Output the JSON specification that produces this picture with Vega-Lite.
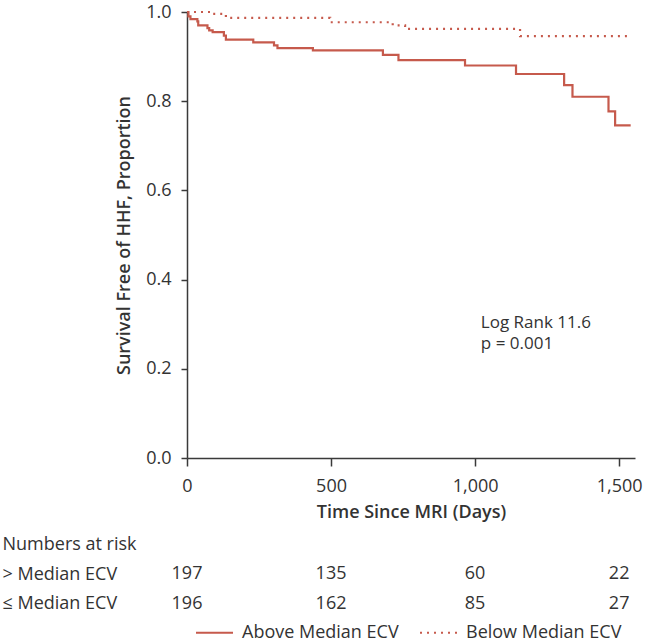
{
  "$schema": "https://vega.github.io/schema/vega-lite/v6.json",
  "padding": {"left": 2, "top": 3, "right": 5, "bottom": 0},
  "background": "white",
  "config": {
    "font": "Open Sans",
    "view": {"stroke": null},
    "axis": {"grid": false, "domainColor": "#3a3a3a", "tickColor": "#3a3a3a", "domainWidth": 1.5, "tickWidth": 1.5, "labelColor": "#333333", "titleColor": "#333333", "labelFont": "Open Sans", "titleFont": "Open Sans", "labelFontSize": 18, "titleFontSize": 18, "titleFontWeight": 600}
  },
  "datasets": {
    "km": [
      {"group": "Above Median ECV", "day": 0, "surv": 1.0},
      {"group": "Above Median ECV", "day": 5, "surv": 0.990},
      {"group": "Above Median ECV", "day": 12, "surv": 0.984},
      {"group": "Above Median ECV", "day": 36, "surv": 0.979},
      {"group": "Above Median ECV", "day": 39, "surv": 0.970},
      {"group": "Above Median ECV", "day": 71, "surv": 0.964},
      {"group": "Above Median ECV", "day": 77, "surv": 0.959},
      {"group": "Above Median ECV", "day": 89, "surv": 0.955},
      {"group": "Above Median ECV", "day": 128, "surv": 0.947},
      {"group": "Above Median ECV", "day": 135, "surv": 0.938},
      {"group": "Above Median ECV", "day": 230, "surv": 0.932},
      {"group": "Above Median ECV", "day": 302, "surv": 0.925},
      {"group": "Above Median ECV", "day": 314, "surv": 0.919},
      {"group": "Above Median ECV", "day": 437, "surv": 0.914},
      {"group": "Above Median ECV", "day": 680, "surv": 0.904},
      {"group": "Above Median ECV", "day": 734, "surv": 0.892},
      {"group": "Above Median ECV", "day": 965, "surv": 0.880},
      {"group": "Above Median ECV", "day": 1142, "surv": 0.861},
      {"group": "Above Median ECV", "day": 1309, "surv": 0.836},
      {"group": "Above Median ECV", "day": 1338, "surv": 0.810},
      {"group": "Above Median ECV", "day": 1463, "surv": 0.777},
      {"group": "Above Median ECV", "day": 1486, "surv": 0.746},
      {"group": "Above Median ECV", "day": 1540, "surv": 0.746},
      {"group": "Below Median ECV", "day": 0, "surv": 1.0},
      {"group": "Below Median ECV", "day": 85, "surv": 0.996},
      {"group": "Below Median ECV", "day": 135, "surv": 0.987},
      {"group": "Below Median ECV", "day": 497, "surv": 0.977},
      {"group": "Below Median ECV", "day": 714, "surv": 0.970},
      {"group": "Below Median ECV", "day": 757, "surv": 0.962},
      {"group": "Below Median ECV", "day": 1156, "surv": 0.946},
      {"group": "Below Median ECV", "day": 1540, "surv": 0.946}
    ],
    "note": [
      {"day": 1020, "surv": 0.302, "label": "Log Rank 11.6"},
      {"day": 1020, "surv": 0.255, "label": "p = 0.001"}
    ],
    "risk": [
      {"row": "> Median ECV", "day": 0, "n": 197},
      {"row": "> Median ECV", "day": 500, "n": 135},
      {"row": "> Median ECV", "day": 1000, "n": 60},
      {"row": "> Median ECV", "day": 1500, "n": 22},
      {"row": "≤ Median ECV", "day": 0, "n": 196},
      {"row": "≤ Median ECV", "day": 500, "n": 162},
      {"row": "≤ Median ECV", "day": 1000, "n": 85},
      {"row": "≤ Median ECV", "day": 1500, "n": 27}
    ]
  },
  "spacing": 9,
  "vconcat": [
    {
      "width": 448,
      "height": 446,
      "layer": [
        {
          "data": {"name": "km"},
          "mark": {"type": "line", "interpolate": "step-after", "strokeWidth": 2.2, "color": "#c65a4c"},
          "encoding": {
            "x": {"field": "day", "type": "quantitative", "scale": {"domain": [0, 1555], "nice": false},
                  "axis": {"values": [0, 500, 1000, 1500], "title": "Time Since MRI (Days)", "tickSize": 8, "labelPadding": 11, "titlePadding": 8, "labelFlush": false}},
            "y": {"field": "surv", "type": "quantitative", "scale": {"domain": [0, 1], "nice": false},
                  "axis": {"values": [0, 0.2, 0.4, 0.6, 0.8, 1.0], "format": ".1f", "title": "Survival Free of HHF, Proportion", "tickSize": 6, "labelPadding": 10, "titlePadding": 12}},
            "strokeDash": {"field": "group", "type": "nominal",
                           "scale": {"domain": ["Above Median ECV", "Below Median ECV"], "range": [[1, 0], [2, 5]]},
                           "legend": {"orient": "none", "legendX": 8, "legendY": 601, "padding": 0, "direction": "horizontal", "title": null,
                                      "symbolType": "stroke", "symbolSize": 1369, "symbolStrokeColor": "#c65a4c", "symbolStrokeWidth": 2,
                                      "labelFontSize": 18, "labelColor": "#333333", "labelFont": "Open Sans", "labelOffset": 8, "columnPadding": 17}}
          }
        },
        {
          "data": {"name": "note"},
          "mark": {"type": "text", "align": "left", "baseline": "middle", "fontSize": 17, "color": "#333333"},
          "encoding": {
            "x": {"field": "day", "type": "quantitative"},
            "y": {"field": "surv", "type": "quantitative"},
            "text": {"field": "label"}
          }
        }
      ]
    },
    {
      "width": 448,
      "height": 88.5,
      "data": {"name": "risk"},
      "mark": {"type": "text", "fontSize": 18, "color": "#333333", "baseline": "middle"},
      "encoding": {
        "x": {"field": "day", "type": "quantitative", "scale": {"domain": [0, 1555], "nice": false}, "axis": null},
        "y": {"field": "row", "type": "nominal",
              "scale": {"domain": ["Numbers at risk", "> Median ECV", "≤ Median ECV"], "paddingInner": 0, "paddingOuter": 0},
              "axis": {"title": null, "domain": false, "ticks": false, "tickSize": 0, "labelAlign": "left", "labelPadding": 185, "labelFontSize": 18}},
        "text": {"field": "n"}
      }
    }
  ]
}
